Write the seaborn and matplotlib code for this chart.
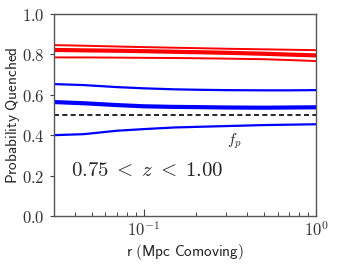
import numpy as np
import pandas as pd
import matplotlib
matplotlib.use("Agg")
import matplotlib.pyplot as plt
import matplotlib.ticker as mticker
import seaborn as sns

sns.set_style("ticks")
plt.rcParams['mathtext.fontset'] = 'cm'
plt.rcParams['font.family'] = ['DejaVu Sans']
plt.rcParams['xtick.minor.visible'] = True

r = [0.03, 0.045, 0.07, 0.1, 0.15, 0.2, 0.3, 0.5, 0.7, 1.0]
red_upper = [0.846, 0.843, 0.839, 0.836, 0.833, 0.831, 0.828, 0.825, 0.823, 0.821]
red_mid = [0.822, 0.820, 0.818, 0.816, 0.813, 0.811, 0.808, 0.803, 0.799, 0.795]
red_lower = [0.785, 0.785, 0.784, 0.783, 0.782, 0.781, 0.779, 0.776, 0.772, 0.767]
blue_upper = [0.653, 0.648, 0.638, 0.632, 0.627, 0.625, 0.623, 0.622, 0.622, 0.623]
blue_mid = [0.564, 0.558, 0.549, 0.543, 0.540, 0.539, 0.537, 0.536, 0.537, 0.538]
blue_lower = [0.400, 0.405, 0.422, 0.430, 0.438, 0.441, 0.445, 0.450, 0.452, 0.454]
f_p = 0.5
y_ticks = [0.0, 0.2, 0.4, 0.6, 0.8, 1.0]
x_major = [0.1, 1.0]
x_minor = [0.04, 0.05, 0.06, 0.07, 0.08, 0.09, 0.2, 0.3, 0.4, 0.5, 0.6, 0.7, 0.8, 0.9]

fig, ax = plt.subplots(figsize=(3.52, 2.64), dpi=100)
fig.subplots_adjust(left=0.152, right=0.898, top=0.947, bottom=0.182)

series = [(red_upper, 'red', 1.4), (red_mid, 'red', 3.0), (red_lower, 'red', 1.4),
          (blue_upper, 'blue', 1.6), (blue_mid, 'blue', 3.0), (blue_lower, 'blue', 1.6)]
for vals, col, lw in series:
    df = pd.DataFrame({'r': r, 'p': vals})
    sns.lineplot(data=df, x='r', y='p', color=col, lw=lw, ax=ax)

ax.axhline(f_p, color='black', ls='--', lw=1.2, dashes=(3, 2))

ax.set_xscale('log')
ax.set_xlim(0.03, 1.0)
ax.set_ylim(0.0, 1.0)
ax.set_yticks(y_ticks)
ax.set_yticklabels([f'${v:.1f}$' for v in y_ticks])
ax.xaxis.set_major_locator(mticker.FixedLocator(x_major))
ax.xaxis.set_major_formatter(mticker.FixedFormatter([r'$10^{-1}$', r'$10^{0}$']))
ax.xaxis.set_minor_locator(mticker.FixedLocator(x_minor))
ax.xaxis.set_minor_formatter(mticker.NullFormatter())
ax.yaxis.set_minor_locator(mticker.NullLocator())
ax.tick_params(axis='x', which='both', direction='in', labelsize=12, colors='#444444', labelcolor='#333333')
ax.tick_params(axis='x', which='major', length=5, width=0.8)
ax.tick_params(axis='x', which='minor', length=3, width=0.7, bottom=True)
ax.tick_params(axis='y', which='major', direction='out', length=3, labelsize=12, colors='#444444', labelcolor='#333333')
for s in ax.spines.values():
    s.set_color('#555555')
    s.set_linewidth(1.0)

ax.set_xlabel(r'$\mathsf{r\ (Mpc\ Comoving)}$', fontsize=11, color='#222222', labelpad=2)
ax.set_ylabel(r'$\mathsf{Probability\ Quenched}$', fontsize=11, color='#222222')
ax.yaxis.set_label_coords(-0.12, 0.5)

ax.text(0.335, 0.37, r'$f_p$', fontsize=11, ha='center', va='center')
ax.text(0.038, 0.228, r'$0.75\;<\;z\;<\;1.00$', fontsize=15, ha='left', va='center')

fig.savefig('out.png', dpi=100)
